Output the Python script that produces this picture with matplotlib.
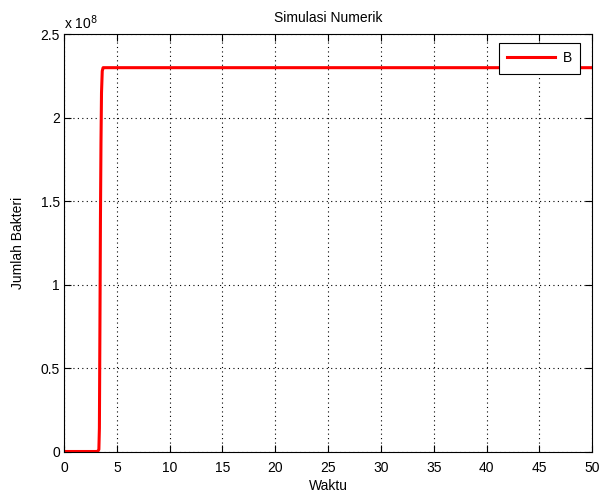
import matplotlib
matplotlib.use("Agg")
import matplotlib.pyplot as plt
from matplotlib.ticker import FuncFormatter

plt.rcParams['font.family'] = ['Liberation Sans', 'DejaVu Sans']

# Data (time, bacteria count)
waktu = [0, 0.5, 1.0, 1.5, 2.0, 2.5, 3.0, 3.2, 3.3, 3.35, 3.4, 3.45, 3.5, 3.55, 3.62, 3.7, 3.8, 4.0, 5, 10, 20, 30, 40, 50]
bakteri = [0.0, 0.0, 0.0, 0.0, 0.0, 0.0, 0.0, 1e5, 1.2e6, 1.4e7, 7.5e7, 1.4e8, 1.85e8, 2.15e8, 2.28e8, 2.3e8, 2.3e8, 2.3e8, 2.3e8, 2.3e8, 2.3e8, 2.3e8, 2.3e8, 2.3e8]

xticks = [0, 5, 10, 15, 20, 25, 30, 35, 40, 45, 50]
yticks = [0, 0.5e8, 1.0e8, 1.5e8, 2.0e8, 2.5e8]

fig = plt.figure(figsize=(5.99, 4.97), dpi=100)
ax = fig.add_axes([64/599, 1-451.5/497, (592.3-64)/599, (451.5-34.3)/497])

ax.plot(waktu, bakteri, color='#ff0000', linewidth=2.2, label='B')

ax.set_xlim(0, 50)
ax.set_ylim(0, 2.5e8)
ax.set_xticks(xticks)
ax.set_yticks(yticks)

def yfmt(v, pos):
    return '%g' % (v / 1e8)
ax.yaxis.set_major_formatter(FuncFormatter(yfmt))

ax.grid(True, color='black', linestyle=(0, (1, 3)), linewidth=0.8)
ax.tick_params(direction='in', length=5, width=0.8, top=True, right=True,
               labelsize=10, colors='black')
ax.tick_params(axis='x', pad=6.5)
ax.tick_params(axis='y', pad=3)
for sp in ax.spines.values():
    sp.set_linewidth(0.8)
    sp.set_color('black')

ax.text(0.0, 1.005, r'x 10$^{8}$', transform=ax.transAxes, fontsize=10,
        ha='left', va='bottom')

ax.set_title('Simulasi Numerik', fontsize=10, pad=9)
ax.set_xlabel('Waktu', fontsize=10, labelpad=3)
ax.set_ylabel('Jumlah Bakteri', fontsize=10, labelpad=11)

leg = ax.legend(loc='upper right', fontsize=10, fancybox=False, framealpha=1,
                edgecolor='black', borderpad=0.6, handlelength=3.5,
                handletextpad=0.5, borderaxespad=0,
                bbox_to_anchor=((580-64)/528.3, (451.5-43)/417.2))
leg.get_frame().set_linewidth(0.8)

fig.savefig('out.png', dpi=100)
